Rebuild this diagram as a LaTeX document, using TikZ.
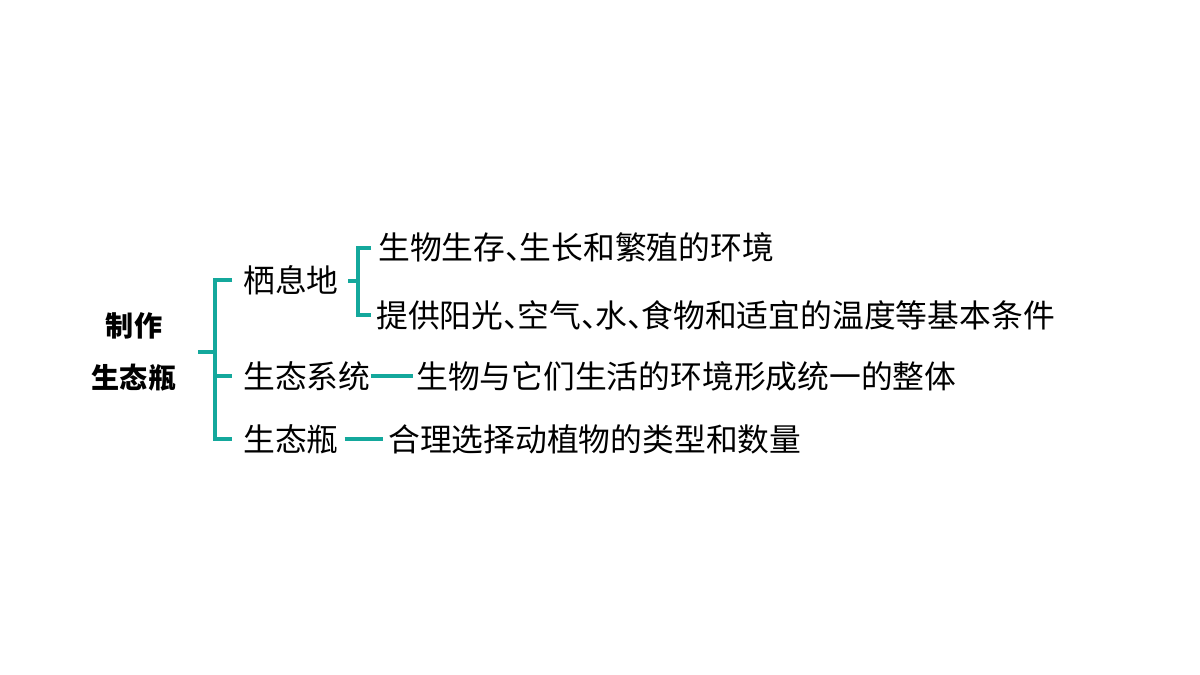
\documentclass[tikz,border=0pt]{standalone}
\usepackage{fontspec}
\setmainfont{Noto Sans CJK SC}
\usepackage{xcolor}
\definecolor{tealline}{HTML}{14A89C}
\newcommand{\dun}{、\kern-0.55em}

\tikzset{
  link/.style={draw=tealline,line width=2.6pt},
  item/.style={anchor=west,inner sep=0pt,font=\fontsize{22.6pt}{26pt}\selectfont},
  rootbox/.style={inner sep=0pt,align=center,font=\fontsize{20pt}{37pt}\selectfont\bfseries}
}

\begin{document}
\begin{tikzpicture}[x=0.025cm,y=-0.025cm]

\useasboundingbox[fill=white] (0,0) rectangle (1200,675);

% root and first level
\node[rootbox] (root) at (134,352) {制作\\生态瓶};

\node[item] (hab) at (243,280) {栖息地};
\node[item] (eco) at (243,376) {生态系统};
\node[item] (jar) at (243,439) {生态瓶};

% second level
\node[item] (hab1) at (378,247) {生物生存\dun 生长和繁殖的环境};
\node[item] (hab2) at (376,315) {提供阳光\dun 空气\dun 水\dun 食物和适宜的温度等基本条件};
\node[item] (ecod) at (416,376) {生物与它们生活的环境形成统一的整体};
\node[item] (jard) at (388,439) {合理选择动植物的类型和数量};

% main bracket
\coordinate (rootR) at (198,352);
\coordinate (spine) at (215,352);
\coordinate (habL) at (232,280);
\coordinate (ecoL) at (232,376);
\coordinate (jarL) at (232,439);
\draw[link] (rootR) -- (spine);
\draw[link] (habL) -| (spine) |- (jarL);
\draw[link] (spine |- ecoL) -- (ecoL);

% bracket of the habitat
\coordinate (habR) at (348,281);
\coordinate (sub) at (358,281);
\coordinate (hab1L) at (371,248);
\coordinate (hab2L) at (371,315);
\draw[link] (habR) -- (sub);
\draw[link] (hab1L) -| (sub) |- (hab2L);

% dashes
\draw[link] (eco.east) -- ([xshift=-2pt]ecod.west);
\draw[link] ([xshift=4pt]jar.east) -- ([xshift=-3.5pt]jard.west);

\end{tikzpicture}
\end{document}
